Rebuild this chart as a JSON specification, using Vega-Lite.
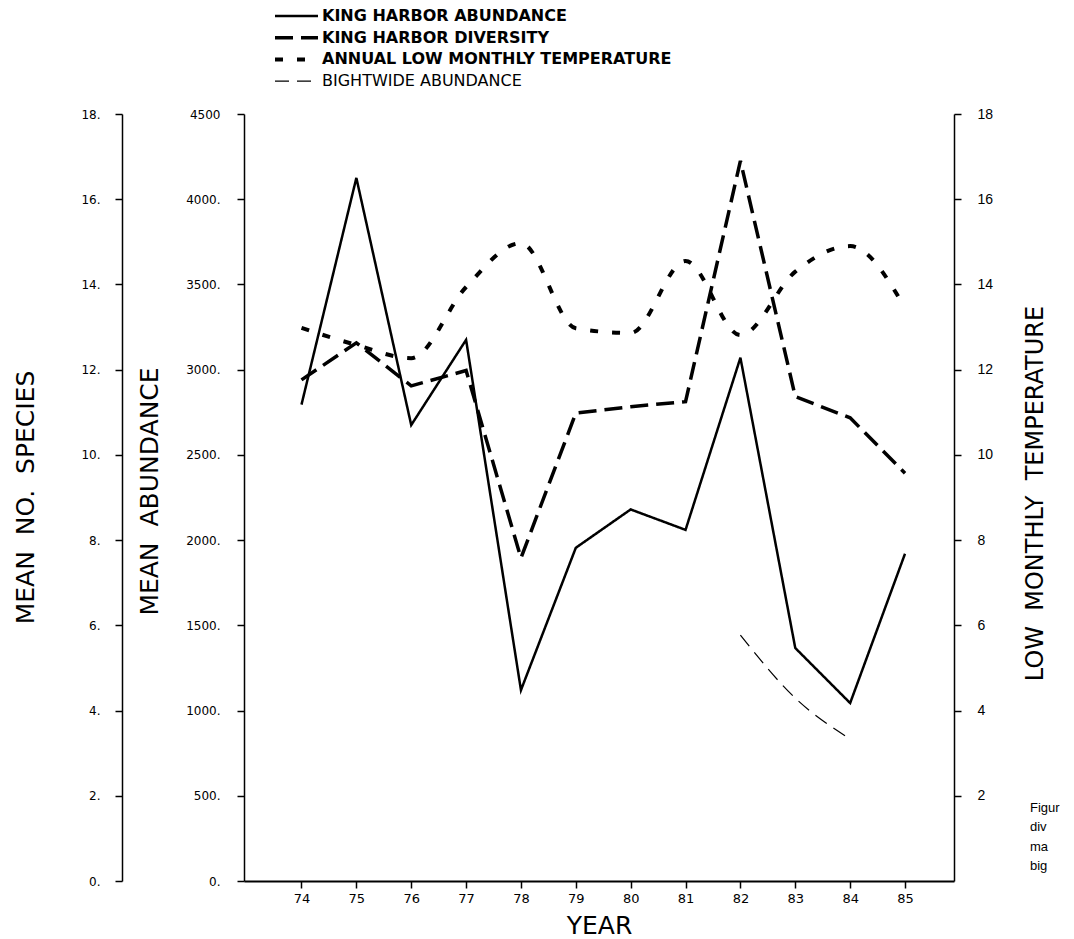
{
  "$schema": "https://vega.github.io/schema/vega-lite/v6.json",
  "width": 710,
  "height": 767,
  "autosize": {"type": "none"},
  "padding": {"left": 244, "top": 114, "right": 120, "bottom": 58},
  "background": "white",
  "config": {
    "view": {"stroke": null},
    "axis": {"domainColor": "black", "tickColor": "black", "labelColor": "black", "titleColor": "black", "grid": false}
  },
  "title": {
    "text": ["Figur", "\u00a0\u00a0\u00a0div", "\u00a0\u00a0\u00a0ma", "\u00a0\u00a0\u00a0big"],
    "orient": "top", "anchor": "end", "frame": "group", "align": "left", "baseline": "top",
    "dx": 76, "dy": 865, "offset": 0,
    "font": "Liberation Sans", "fontSize": 13, "fontWeight": "normal", "lineHeight": 19.5, "color": "black"
  },
  "data": {
    "values": [
      {"year": 74, "series": "KING HARBOR ABUNDANCE", "value": 2795},
      {"year": 75, "series": "KING HARBOR ABUNDANCE", "value": 4125},
      {"year": 76, "series": "KING HARBOR ABUNDANCE", "value": 2675},
      {"year": 77, "series": "KING HARBOR ABUNDANCE", "value": 3175},
      {"year": 78, "series": "KING HARBOR ABUNDANCE", "value": 1120},
      {"year": 79, "series": "KING HARBOR ABUNDANCE", "value": 1955},
      {"year": 80, "series": "KING HARBOR ABUNDANCE", "value": 2180},
      {"year": 81, "series": "KING HARBOR ABUNDANCE", "value": 2060},
      {"year": 82, "series": "KING HARBOR ABUNDANCE", "value": 3070},
      {"year": 83, "series": "KING HARBOR ABUNDANCE", "value": 1367},
      {"year": 84, "series": "KING HARBOR ABUNDANCE", "value": 1044},
      {"year": 85, "series": "KING HARBOR ABUNDANCE", "value": 1920},
      {"year": 82, "series": "BIGHTWIDE ABUNDANCE", "value": 1443},
      {"year": 83, "series": "BIGHTWIDE ABUNDANCE", "value": 1073},
      {"year": 84, "series": "BIGHTWIDE ABUNDANCE", "value": 833},
      {"year": 74, "series": "KING HARBOR DIVERSITY", "value": 11.76},
      {"year": 75, "series": "KING HARBOR DIVERSITY", "value": 12.63},
      {"year": 76, "series": "KING HARBOR DIVERSITY", "value": 11.62},
      {"year": 77, "series": "KING HARBOR DIVERSITY", "value": 11.98},
      {"year": 78, "series": "KING HARBOR DIVERSITY", "value": 7.58},
      {"year": 79, "series": "KING HARBOR DIVERSITY", "value": 10.98},
      {"year": 80, "series": "KING HARBOR DIVERSITY", "value": 11.13},
      {"year": 81, "series": "KING HARBOR DIVERSITY", "value": 11.25},
      {"year": 82, "series": "KING HARBOR DIVERSITY", "value": 16.9},
      {"year": 83, "series": "KING HARBOR DIVERSITY", "value": 11.37},
      {"year": 84, "series": "KING HARBOR DIVERSITY", "value": 10.87},
      {"year": 85, "series": "KING HARBOR DIVERSITY", "value": 9.57},
      {"year": 74, "series": "ANNUAL LOW MONTHLY TEMPERATURE", "value": 12.98},
      {"year": 75, "series": "ANNUAL LOW MONTHLY TEMPERATURE", "value": 12.58},
      {"year": 76, "series": "ANNUAL LOW MONTHLY TEMPERATURE", "value": 12.27},
      {"year": 77, "series": "ANNUAL LOW MONTHLY TEMPERATURE", "value": 13.94},
      {"year": 78, "series": "ANNUAL LOW MONTHLY TEMPERATURE", "value": 14.97},
      {"year": 79, "series": "ANNUAL LOW MONTHLY TEMPERATURE", "value": 12.97},
      {"year": 80, "series": "ANNUAL LOW MONTHLY TEMPERATURE", "value": 12.86},
      {"year": 81, "series": "ANNUAL LOW MONTHLY TEMPERATURE", "value": 14.55},
      {"year": 82, "series": "ANNUAL LOW MONTHLY TEMPERATURE", "value": 12.81},
      {"year": 83, "series": "ANNUAL LOW MONTHLY TEMPERATURE", "value": 14.3},
      {"year": 84, "series": "ANNUAL LOW MONTHLY TEMPERATURE", "value": 14.9},
      {"year": 85, "series": "ANNUAL LOW MONTHLY TEMPERATURE", "value": 13.45}
    ]
  },
  "layer": [
    {
      "transform": [{"filter": "datum.series == 'KING HARBOR ABUNDANCE'"}],
      "mark": {"type": "line", "color": "black", "strokeWidth": 2.5},
      "encoding": {
        "x": {"field": "year", "type": "quantitative",
          "scale": {"domain": [72.952, 85.893], "nice": false, "zero": false},
          "axis": {"orient": "bottom", "values": [74, 75, 76, 77, 78, 79, 80, 81, 82, 83, 84, 85], "format": "d",
            "tickSize": 7, "tickWidth": 1.5, "domainWidth": 2, "labelPadding": 4, "labelFont": "DejaVu Sans", "labelFontSize": 13,
            "encode": {"ticks": {"y": {"value": -8}, "y2": {"value": 7}}},
            "title": "YEAR", "titleFont": "DejaVu Sans", "titleFontSize": 25, "titleFontWeight": "normal", "titleY": 44, "titleBaseline": "middle"}},
        "y": {"field": "value", "type": "quantitative",
          "scale": {"domain": [0, 4500], "nice": false},
          "axis": {"orient": "left", "values": [0, 500, 1000, 1500, 2000, 2500, 3000, 3500, 4000, 4500], "format": "d",
            "labelExpr": "datum.value == 4500 ? '4500' : datum.label + '.'",
            "tickSize": 7, "tickWidth": 1.5, "domainWidth": 1.5, "labelPadding": 17, "labelFont": "DejaVu Sans", "labelFontSize": 12,
            "encode": {"ticks": {"x": {"value": 7}, "x2": {"value": -7}}},
            "title": "MEAN\u00a0\u00a0ABUNDANCE", "titleFont": "DejaVu Sans", "titleFontSize": 25, "titleFontWeight": "normal",
            "titleAngle": -90, "titleX": -95, "titleY": 377, "titleAlign": "center", "titleBaseline": "middle"}},
        "strokeDash": {"field": "series", "type": "nominal",
          "scale": {"domain": ["KING HARBOR ABUNDANCE", "KING HARBOR DIVERSITY", "ANNUAL LOW MONTHLY TEMPERATURE", "BIGHTWIDE ABUNDANCE"],
            "range": [[1, 0], [18, 8], [8, 14], [14, 8]]},
          "legend": {"title": null, "orient": "none", "legendX": 31, "legendY": -106, "symbolType": "stroke", "symbolSize": 300,
            "symbolStrokeColor": "black", "labelFont": "DejaVu Sans", "labelFontSize": 16, "labelFontWeight": "bold", "labelColor": "black",
            "rowPadding": 5.7, "labelOffset": 3, "padding": 0, "labelLimit": 600,
            "encode": {
              "symbols": {"update": {
                "size": {"value": 1849},
                "x": {"value": 21.5},
                "strokeWidth": {"signal": "datum.label == 'BIGHTWIDE ABUNDANCE' ? 1.2 : datum.label == 'KING HARBOR ABUNDANCE' ? 2.5 : datum.label == 'KING HARBOR DIVERSITY' ? 3.5 : 4"}}},
              "labels": {"update": {
                "x": {"value": 47},
                "fontWeight": {"signal": "datum.label == 'BIGHTWIDE ABUNDANCE' ? 'normal' : 'bold'"}}}}}}
      }
    },
    {
      "transform": [{"filter": "datum.series == 'BIGHTWIDE ABUNDANCE'"}],
      "mark": {"type": "line", "color": "black", "interpolate": "monotone", "strokeWidth": 1.2},
      "encoding": {
        "x": {"field": "year", "type": "quantitative", "axis": null},
        "y": {"field": "value", "type": "quantitative", "scale": {"domain": [0, 4500], "nice": false}, "axis": null},
        "strokeDash": {"field": "series", "type": "nominal"}
      }
    },
    {
      "transform": [{"filter": "datum.series == 'KING HARBOR DIVERSITY'"}],
      "mark": {"type": "line", "color": "black", "strokeWidth": 3.5},
      "encoding": {
        "x": {"field": "year", "type": "quantitative", "axis": null},
        "y": {"field": "value", "type": "quantitative", "scale": {"domain": [0, 18], "nice": false},
          "axis": {"orient": "left", "offset": 122, "values": [0, 2, 4, 6, 8, 10, 12, 14, 16, 18], "format": "d",
            "labelExpr": "datum.label + '.'",
            "tickSize": 7, "tickWidth": 1.5, "domainWidth": 1.5, "labelPadding": 15, "labelFont": "DejaVu Sans", "labelFontSize": 12,
            "encode": {"ticks": {"x": {"value": 7}, "x2": {"value": -7}}},
            "title": "MEAN\u00a0\u00a0NO.\u00a0\u00a0SPECIES", "titleFont": "DejaVu Sans", "titleFontSize": 25, "titleFontWeight": "normal",
            "titleAngle": -90, "titleX": -97, "titleY": 383, "titleAlign": "center", "titleBaseline": "middle"}},
        "strokeDash": {"field": "series", "type": "nominal"}
      }
    },
    {
      "transform": [{"filter": "datum.series == 'ANNUAL LOW MONTHLY TEMPERATURE'"}],
      "mark": {"type": "line", "color": "black", "interpolate": "monotone", "strokeWidth": 4},
      "encoding": {
        "x": {"field": "year", "type": "quantitative", "axis": null},
        "y": {"field": "value", "type": "quantitative", "scale": {"domain": [0, 18], "nice": false},
          "axis": {"orient": "right", "values": [2, 4, 6, 8, 10, 12, 14, 16, 18], "format": "d",
            "tickSize": 7, "tickWidth": 1.5, "domainWidth": 1.5, "labelPadding": 16, "labelFont": "Liberation Sans", "labelFontSize": 14,
            "encode": {"ticks": {"x": {"value": -7}, "x2": {"value": 7}}},
            "title": "LOW\u00a0\u00a0MONTHLY\u00a0\u00a0TEMPERATURE", "titleFont": "DejaVu Sans", "titleFontSize": 24, "titleFontWeight": "normal",
            "titleAngle": -90, "titleX": 81, "titleY": 379, "titleAlign": "center", "titleBaseline": "middle"}},
        "strokeDash": {"field": "series", "type": "nominal"}
      }
    }
  ],
  "resolve": {"scale": {"y": "independent"}, "axis": {"x": "independent"}}
}
